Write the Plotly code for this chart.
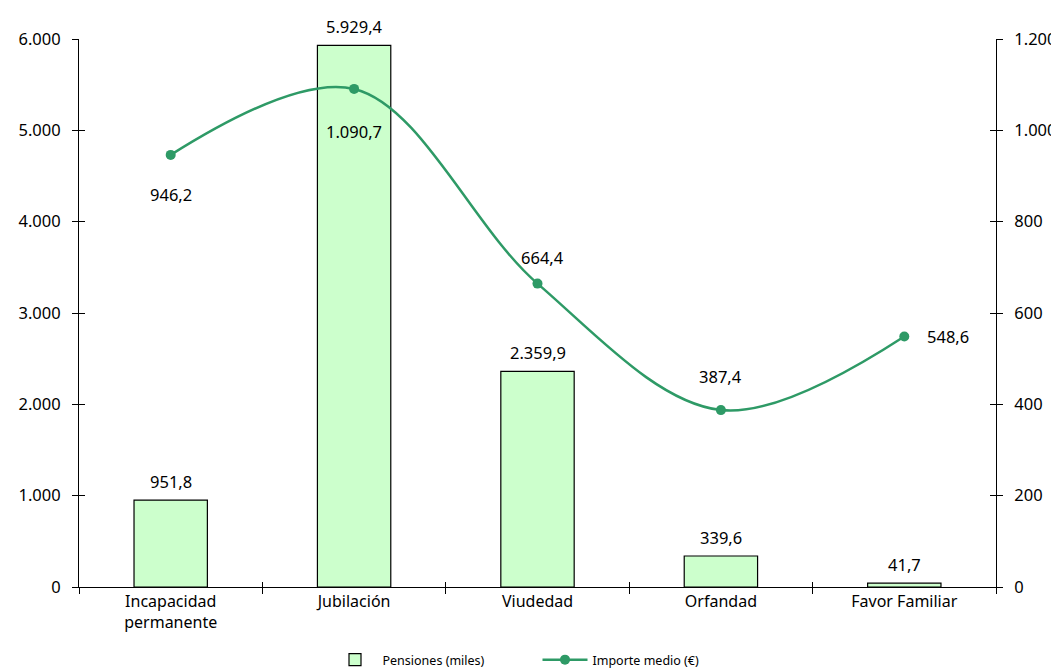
import plotly.graph_objects as go

categories = ["Incapacidad<br>permanente", "Jubilación", "Viudedad", "Orfandad", "Favor Familiar"]
pensiones = [951.8, 5929.4, 2359.9, 339.6, 41.7]
importe = [946.2, 1090.7, 664.4, 387.4, 548.6]
left_ticks = [0, 1000, 2000, 3000, 4000, 5000, 6000]
right_ticks = [0, 200, 400, 600, 800, 1000, 1200]

def fmt(v, dec=1):
    s = f"{v:,.{dec}f}"
    return s.replace(",", "X").replace(".", ",").replace("X", ".")

FONT = "Noto Sans"
GREEN = "#2E9A66"
NUMSIZE = 16.5
W, H = 1051, 660  # page body has an 8px margin

fig = go.Figure()
fig.add_trace(go.Bar(
    x=categories, y=pensiones, name="Pensiones (miles)",
    marker=dict(color="#CCFFCC", line=dict(color="black", width=1.2)),
    width=0.4,
    hoverinfo="skip",
))
for c, v in zip(categories, pensiones):
    fig.add_annotation(x=c, y=v, xref="x", yref="y", text=fmt(v), showarrow=False,
                       yanchor="bottom", yshift=5, font=dict(size=NUMSIZE, color="black", family=FONT))
fig.add_trace(go.Scatter(
    x=categories, y=importe, yaxis="y2", name="Importe medio (€)",
    mode="lines+markers", line=dict(color=GREEN, width=2.5, shape="spline", smoothing=1.0),
    marker=dict(color=GREEN, size=10),
))

# label offsets (px) for line labels
shifts = [(0, -40), (0, -43), (5, 26), (0, 34), (44, 0)]
for c, v, (dx, dy) in zip(categories, importe, shifts):
    fig.add_annotation(x=c, y=v, xref="x", yref="y2", text=fmt(v), showarrow=False,
                       xshift=dx, yshift=dy, font=dict(size=NUMSIZE, color="black", family=FONT))

n = len(categories)
fig.update_layout(
    width=W, height=H,
    margin=dict(l=71, r=63, t=31, b=81, autoexpand=False),
    plot_bgcolor="white", paper_bgcolor="white",
    font=dict(family=FONT, size=15, color="black"),
    separators=",.",
    showlegend=True,
    legend=dict(orientation="h", x=0.5, xanchor="center", xref="paper",
                y=8 / H, yanchor="middle", yref="container",
                font=dict(size=12.5, family=FONT), itemwidth=45, tracegroupgap=0,
                entrywidth=150, entrywidthmode="pixels"),
    xaxis=dict(showline=True, linecolor="black", linewidth=1, ticks="outside", ticklen=6,
               tickson="boundaries", tickcolor="black", showgrid=False, tickfont=dict(size=16),
               range=[-0.5, n - 0.5], automargin=False),
    xaxis2=dict(overlaying="x", range=[-0.5, n - 0.5], tickvals=[i + 0.5 for i in range(n - 1)],
                ticks="inside", ticklen=5, tickcolor="black", showticklabels=False,
                showgrid=False, showline=False, zeroline=False, side="bottom", anchor="y",
                automargin=False),
    yaxis=dict(range=[0, 6000], tickvals=left_ticks, tickformat=",d", showline=True,
               linecolor="black", linewidth=1, ticks="outside", ticklen=6, tickcolor="black",
               showgrid=False, zeroline=False, ticklabelstandoff=8, automargin=False,
               tickfont=dict(size=NUMSIZE)),
    yaxis2=dict(range=[0, 1200], tickvals=right_ticks, tickformat=",d", overlaying="y",
                side="right", showline=True, linecolor="black", linewidth=1, ticks="outside",
                ticklen=6, tickcolor="black", showgrid=False, zeroline=False,
                ticklabelstandoff=8, automargin=False, tickfont=dict(size=NUMSIZE)),
    yaxis3=dict(range=[0, 6000], tickvals=left_ticks, overlaying="y", side="left",
                ticks="inside", ticklen=6, tickcolor="black", showticklabels=False,
                showgrid=False, zeroline=False, showline=False, automargin=False),
    yaxis4=dict(range=[0, 1200], tickvals=right_ticks, overlaying="y", side="right",
                ticks="inside", ticklen=6, tickcolor="black", showticklabels=False,
                showgrid=False, zeroline=False, showline=False, automargin=False),
)
fig.add_trace(go.Scatter(x=[0], y=[0], xaxis="x2", yaxis="y3", mode="markers",
                         marker=dict(opacity=0), showlegend=False, hoverinfo="skip"))
fig.add_trace(go.Scatter(x=[0], y=[0], xaxis="x2", yaxis="y4", mode="markers",
                         marker=dict(opacity=0), showlegend=False, hoverinfo="skip"))

fig.write_html("out.html")
